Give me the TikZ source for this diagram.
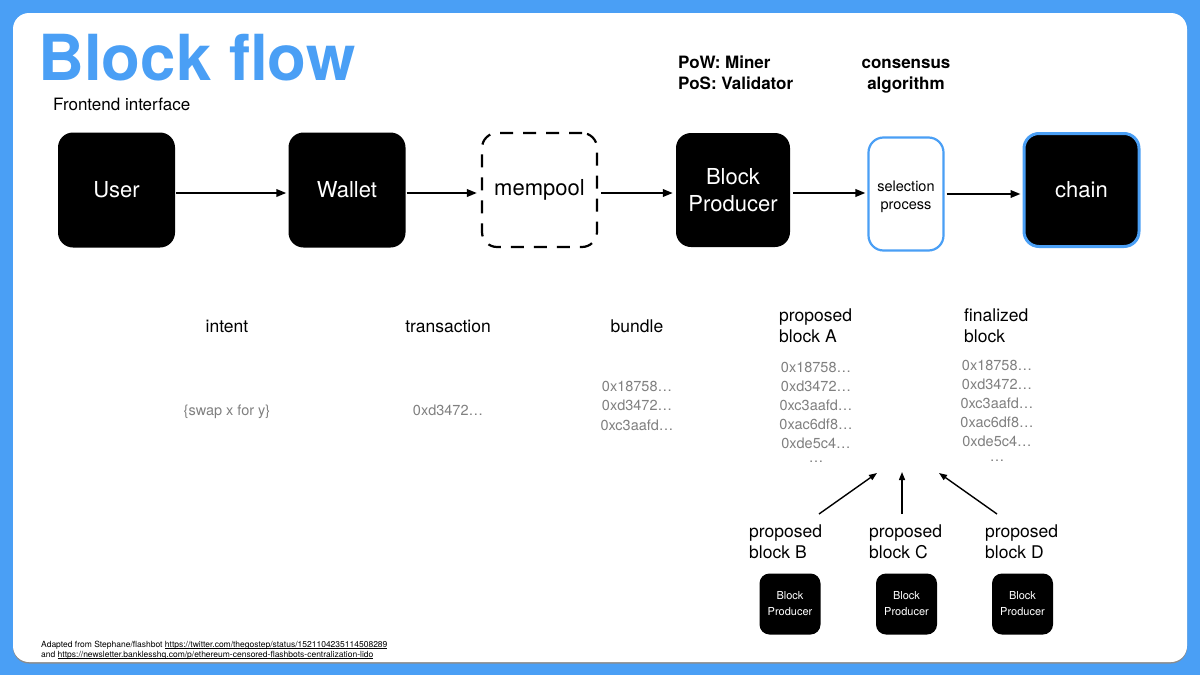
\documentclass[tikz,border=0pt]{standalone}
\usepackage{fontspec}
\setmainfont{TeX Gyre Heros}
\usetikzlibrary{arrows.meta}
\definecolor{frameblue}{RGB}{74,159,245}
\definecolor{hashgray}{RGB}{128,128,128}
\newcommand{\fsz}[2]{\fontsize{#1}{#2}\selectfont}
\newcommand{\linkul}[1]{\setbox0\hbox{#1}\rlap{\rule[-1.3pt]{\wd0}{0.45pt}}\box0}
\begin{document}
\begin{tikzpicture}[x=1pt,y=-1pt,
  blk/.style={fill=black, rounded corners=15pt, minimum width=117pt, minimum height=115pt,
    text=white, font=\fsz{22}{27}, align=center, inner sep=0pt},
  smallblk/.style={fill=black, rounded corners=10pt, minimum width=61pt, minimum height=61pt,
    text=white, font=\fsz{11}{16}, align=center, inner sep=0pt},
  arr/.style={-{Triangle[length=10pt,width=7.5pt]}, line width=2pt},
  uparr/.style={-{Triangle[length=8pt,width=6pt]}, line width=1.4pt},
  lbl/.style={inner sep=0pt, anchor=base, font=\fsz{17.5}{21}},
  lbll/.style={inner sep=0pt, anchor=base west, font=\fsz{17.5}{21}},
  hd/.style={inner sep=0pt, font=\bfseries\fsz{17}{21}},
  hash/.style={inner sep=0pt, anchor=base, text=hashgray, font=\fsz{14.5}{19}}
]
\useasboundingbox (0,0) rectangle (1200,675);
% frame
\fill[frameblue] (0,0) rectangle (1200,675);
\fill[black!45, rounded corners=16pt] (13,14.5) rectangle (1187,663.5);
\fill[white, rounded corners=16pt] (13,13) rectangle (1187,662);

% title
\node[inner sep=0pt, anchor=base west, text=frameblue, font=\bfseries\fsz{63.5}{64}] (title) at (38,80) {Block flow};
\node[inner sep=0pt, anchor=base west, font=\fsz{17}{20}] (fe) at (53,110) {Frontend interface};

% headers
\node[hd, anchor=base west] (pow) at (678,68) {PoW: Miner};
\node[hd, anchor=base west] (pos) at (678,89) {PoS: Validator};
\node[hd, anchor=base] (cons) at (906,68) {consensus};
\node[hd, anchor=base] (algo) at (906,89) {algorithm};

% main boxes
\node[blk] (user) at (116.5,190) {User};
\node[blk] (wallet) at (347,190) {Wallet};
\node[draw, dash pattern=on 13pt off 10pt, line width=2.2pt, rounded corners=15pt,
  minimum width=115pt, minimum height=114pt, font=\fsz{22}{27}, inner sep=0pt] (mempool) at (539.5,190) {mempool};
\node[blk, minimum width=114pt, minimum height=114pt] (bp) at (733,190) {Block\\Producer};
\node[draw=frameblue, line width=2.2pt, fill=white, rounded corners=15pt,
  minimum width=75pt, minimum height=113pt, inner sep=0pt] (sel) at (906,194) {};
\node[font=\fsz{14.5}{18}, align=center, inner sep=0pt] (selt) at (906,197) {selection\\process};
\node[blk, draw=frameblue, line width=3pt, minimum width=115pt, minimum height=113pt] (chain) at (1081.5,190) {chain};

% arrows
\draw[arr, shorten <=1pt, shorten >=2pt] ([yshift=-3pt]user.east) -- ([yshift=-3pt]user.east -| wallet.west);
\draw[arr, shorten <=1pt, shorten >=4pt] ([yshift=-3pt]wallet.east) -- ([yshift=-3pt]wallet.east -| mempool.west);
\draw[arr, shorten <=3pt, shorten >=3pt] ([yshift=-3pt]mempool.east) -- ([yshift=-3pt]mempool.east -| bp.west);
\draw[arr, shorten <=3pt, shorten >=2pt] ([yshift=-3pt]bp.east) -- ([yshift=-3pt]bp.east -| sel.west);
\draw[arr, shorten <=2pt, shorten >=2pt] (sel.east) -- (sel.east -| chain.west);

% row labels
\node[lbl] (intent) at (227,332) {intent};
\node[lbl] (tx) at (448,332) {transaction};
\node[lbl] (bundle) at (637,332) {bundle};
\node[lbll] (pA1) at (779,321) {proposed};
\node[lbll] (pA2) at (779,342) {block A};
\node[lbll] (fin1) at (964,321) {finalized};
\node[lbll] (fin2) at (964,342) {block};

% gray contents
\node[hash] (swap) at (227,415) {\{swap x for y\}};
\node[hash] (txh) at (448,415) {0xd3472…};
\node[hash] (b1) at (637,391) {0x18758…};
\node[hash] (b2) at (637,410.5) {0xd3472…};
\node[hash] (b3) at (637,430) {0xc3aafd…};

\foreach \t [count=\i] in {0x18758…,0xd3472…,0xc3aafd…,0xac6df8…,0xde5c4…}{
  \node[hash] (a\i) at (816,{372+19*(\i-1)}) {\t};
  \node[hash] (f\i) at (997,{370+19*(\i-1)}) {\t};
}
\node[hash] (a6) at (816,462) {…};
\node[hash] (f6) at (997,461) {…};

% proposed blocks B, C, D
\node[lbll] (pB1) at (749,537) {proposed};
\node[lbll] (pB2) at (749,558) {block B};
\node[lbll] (pC1) at (869,537) {proposed};
\node[lbll] (pC2) at (869,558) {block C};
\node[lbll] (pD1) at (985,537) {proposed};
\node[lbll] (pD2) at (985,558) {block D};

\coordinate (sB) at (819,514);
\coordinate (eB) at (877,473);
\coordinate (sC) at (902,514);
\coordinate (eC) at (902,472);
\coordinate (sD) at (997,514);
\coordinate (eD) at (939,473);
\draw[uparr] (sB) -- (eB);
\draw[uparr] (sC) -- (eC);
\draw[uparr] (sD) -- (eD);

\node[smallblk] (bpB) at (790,604) {Block\\Producer};
\node[smallblk] (bpC) at (906.5,604) {Block\\Producer};
\node[smallblk] (bpD) at (1022.5,604) {Block\\Producer};

% footnote
\node[inner sep=0pt, anchor=base west, font=\fsz{8.5}{10}] (src1) at (41,647)
  {Adapted from Stephane/flashbot \linkul{https://twitter.com/thegostep/status/1521104235114508289}};
\node[inner sep=0pt, anchor=base west, font=\fsz{8.5}{10}] (src2) at (41,657)
  {and \linkul{https://newsletter.banklesshq.com/p/ethereum-censored-flashbots-centralization-lido}};
\end{tikzpicture}
\end{document}
